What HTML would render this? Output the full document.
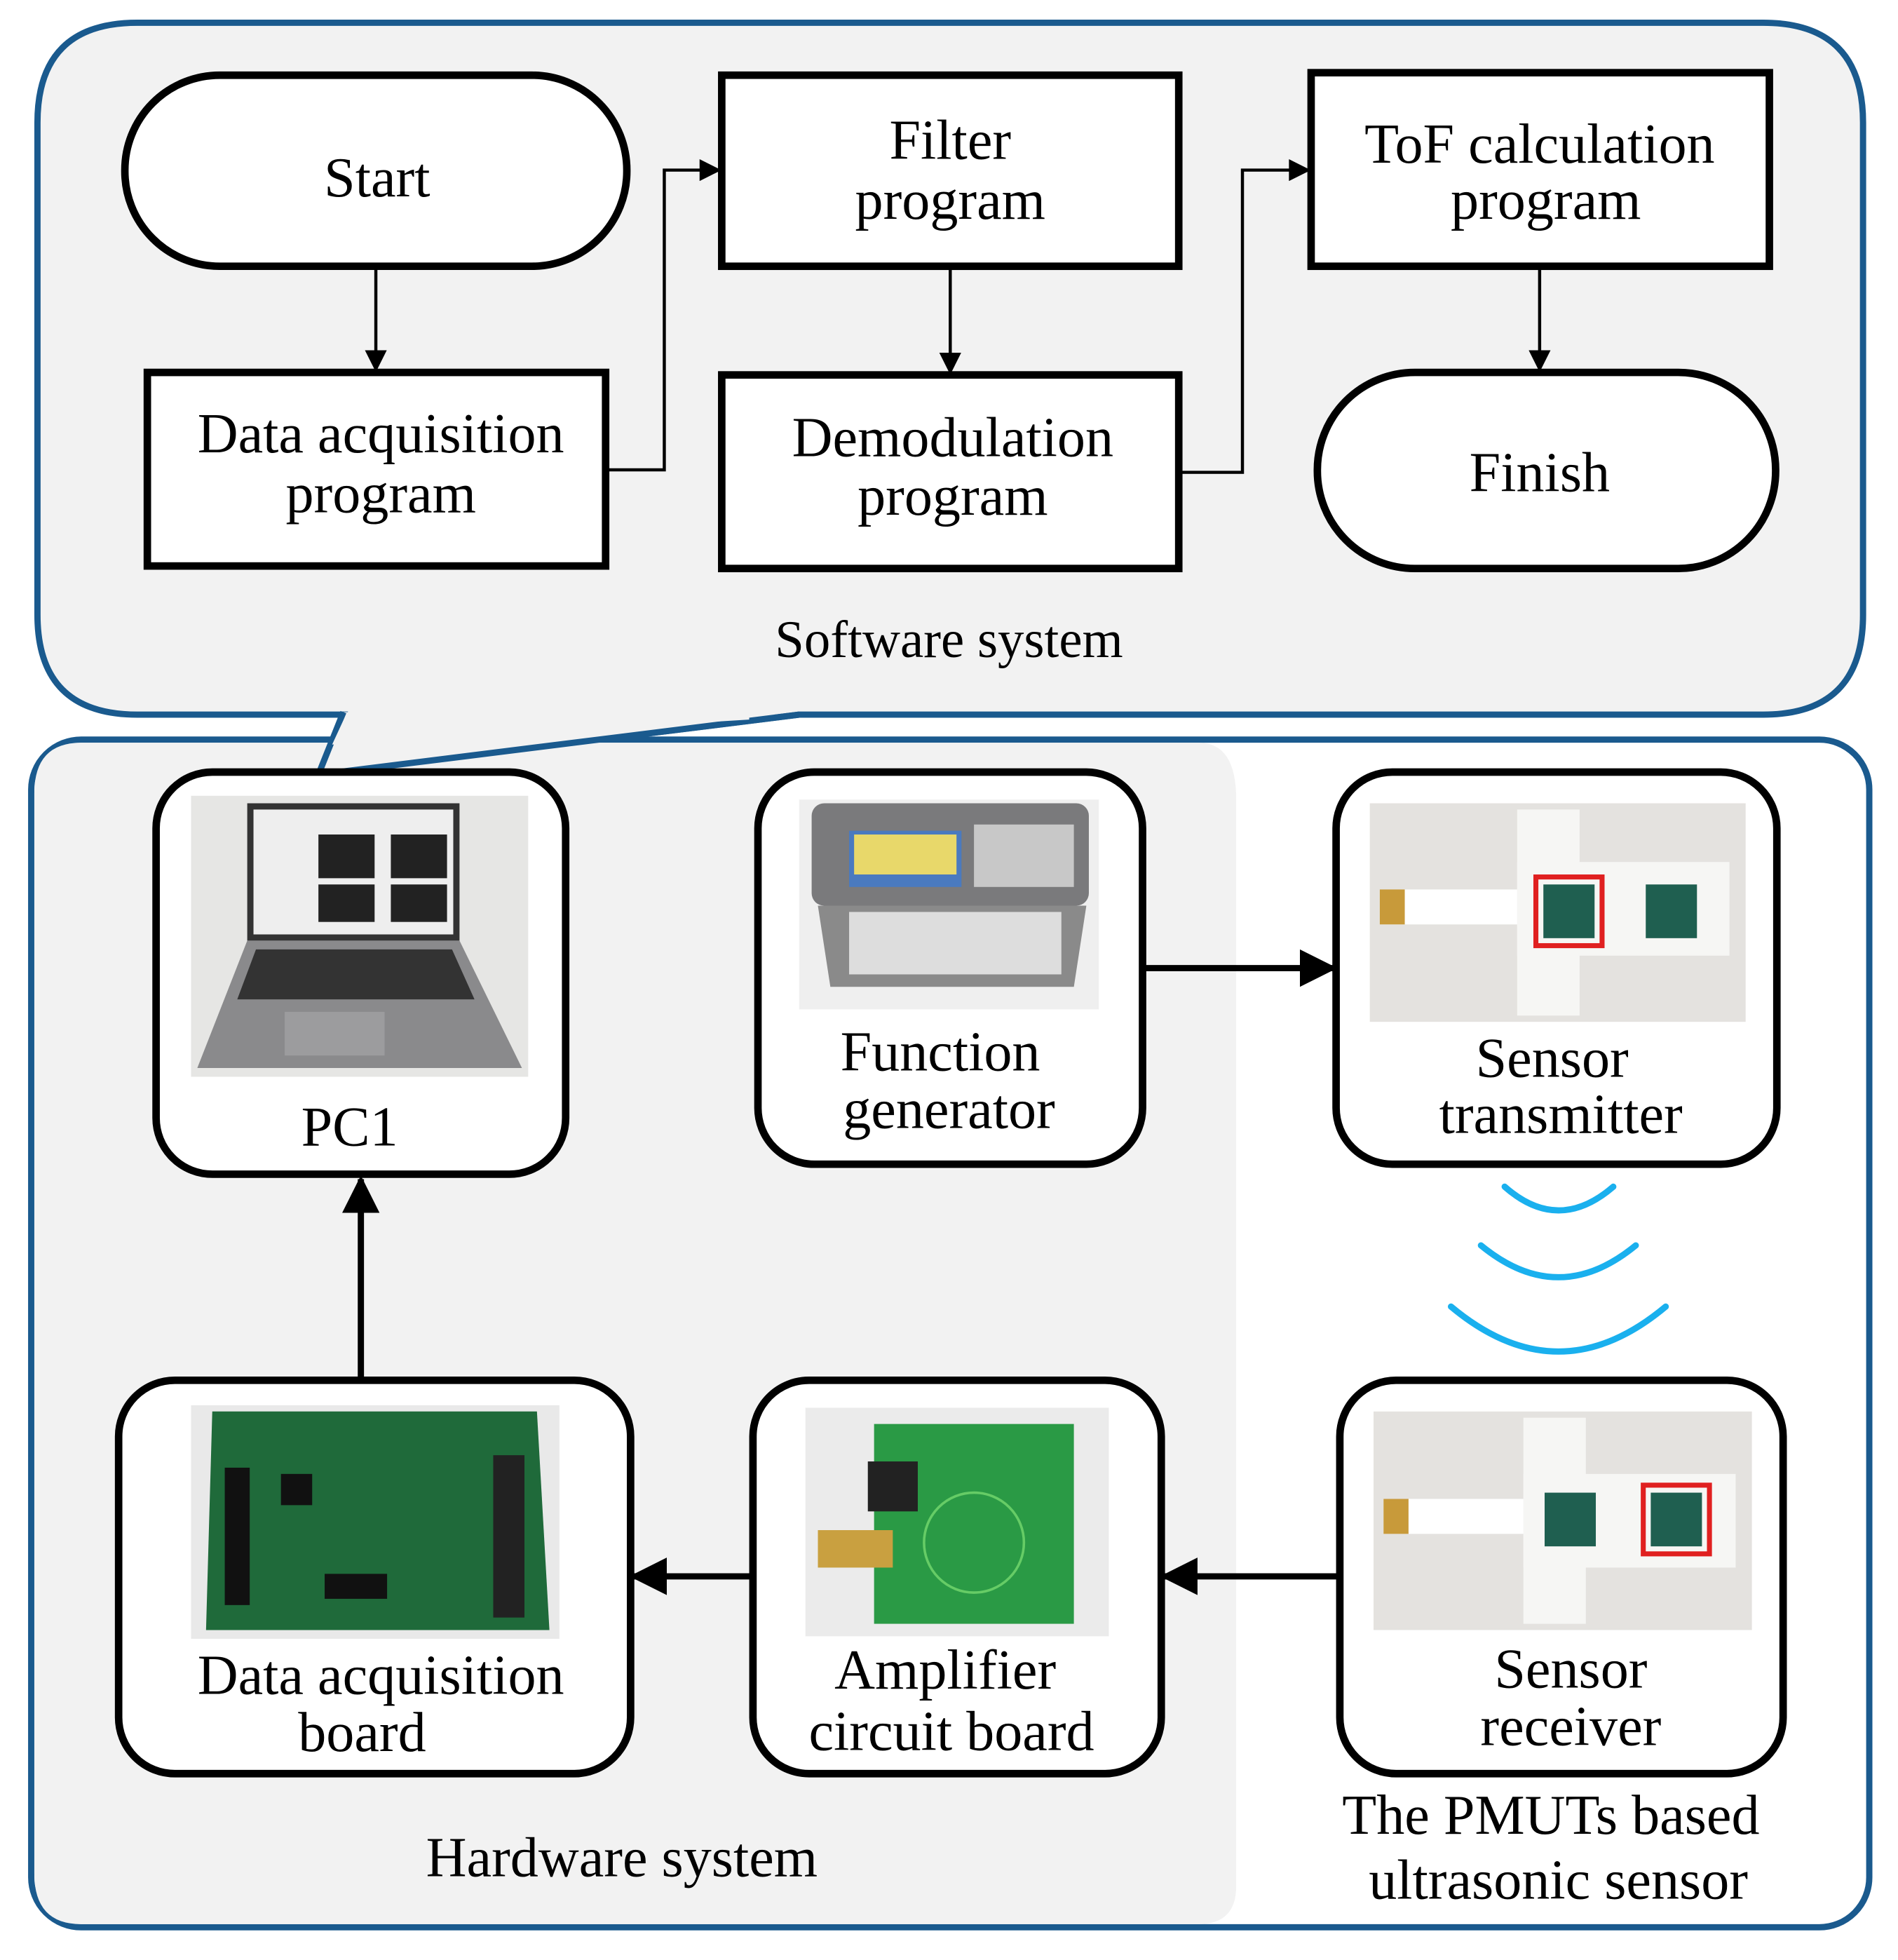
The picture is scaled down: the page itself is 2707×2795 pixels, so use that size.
<!DOCTYPE html>
<html><head><meta charset="utf-8"><style>html,body{margin:0;padding:0;background:#fff}svg{display:block}</style></head>
<body>
<svg xmlns="http://www.w3.org/2000/svg" width="2707" height="2795" viewBox="0 0 1520 1569">
<defs>
<marker id="a" viewBox="0 0 10 10" refX="9" refY="5" markerWidth="8.5" markerHeight="7" orient="auto" markerUnits="strokeWidth"><path d="M0,0L10,5L0,10z" fill="#000"/></marker>
<marker id="b" viewBox="0 0 10 10" refX="9" refY="5" markerWidth="6" markerHeight="6" orient="auto" markerUnits="strokeWidth"><path d="M0,0L10,5L0,10z" fill="#000"/></marker>
</defs>
<g font-family="Liberation Serif, serif" text-anchor="middle" fill="#000">
<path d="M110,18 H1412 Q1492,18 1492,98 V492 Q1492,572 1412,572 H640 L255,620 L275,572 H110 Q30,572 30,492 V98 Q30,18 110,18 Z" fill="#f2f2f2" stroke="#1a5a8e" stroke-width="5"/>
<rect x="25" y="592" width="1472" height="951" rx="40" fill="#fff" stroke="#1a5a8e" stroke-width="5"/>
<path d="M65,594.5 H960 Q990,594.5 990,640 V1510 Q990,1540.5 960,1540.5 H65 Q27.5,1540.5 27.5,1500 V635 Q27.5,594.5 65,594.5Z" fill="#f2f2f2"/>
<path d="M275,570 L255,620 L640,572" fill="#f2f2f2" stroke="#1a5a8e" stroke-width="5" stroke-linejoin="miter"/>
<path d="M266,596 L278,570 L600,570 L600,576 Z" fill="#f2f2f2" stroke="none"/>

<rect x="100" y="60" width="402" height="153" rx="76" fill="#fff" stroke="#000" stroke-width="6"/>
<rect x="578" y="60" width="366" height="153" fill="#fff" stroke="#000" stroke-width="6"/>
<rect x="1050" y="58" width="367" height="155" fill="#fff" stroke="#000" stroke-width="6"/>
<rect x="118" y="298" width="367" height="155" fill="#fff" stroke="#000" stroke-width="6"/>
<rect x="578" y="300" width="366" height="155" fill="#fff" stroke="#000" stroke-width="6"/>
<rect x="1055" y="298" width="367" height="157" rx="78" fill="#fff" stroke="#000" stroke-width="6"/>
<g font-size="45">
<text x="302" y="157">Start</text>
<text x="761" y="127">Filter</text><text x="761" y="175">program</text>
<text x="1233" y="130">ToF calculation</text><text x="1238" y="175">program</text>
<text x="305" y="362">Data acquisition</text><text x="305" y="410">program</text>
<text x="763" y="365">Demodulation</text><text x="763" y="412">program</text>
<text x="1233" y="393">Finish</text>
<text x="760" y="526" font-size="42">Software system</text>
</g>
<g stroke="#000" stroke-width="2.5" fill="none">
<path d="M301,213 V296" marker-end="url(#a)"/>
<path d="M485,376 H532 V136 H576" marker-end="url(#a)"/>
<path d="M761,213 V298" marker-end="url(#a)"/>
<path d="M944,378 H995 V136 H1048" marker-end="url(#a)"/>
<path d="M1233,213 V296" marker-end="url(#a)"/>
</g>

<g fill="#fff" stroke="#000" stroke-width="6">
<rect x="125" y="618" width="328" height="322" rx="45"/>
<rect x="607" y="618" width="308" height="314" rx="45"/>
<rect x="1070" y="618" width="353" height="314" rx="45"/>
<rect x="95" y="1105" width="410" height="315" rx="45"/>
<rect x="603" y="1105" width="327" height="315" rx="45"/>
<rect x="1073" y="1105" width="355" height="315" rx="45"/>
</g>
<rect x="153" y="637" width="270" height="225" fill="#e6e6e4"/>
<rect x="198" y="643" width="170" height="110" fill="#333"/>
<rect x="203" y="648" width="160" height="100" fill="#eee"/>
<rect x="255" y="668" width="45" height="35" fill="#222"/><rect x="313" y="668" width="45" height="35" fill="#222"/>
<rect x="255" y="708" width="45" height="30" fill="#222"/><rect x="313" y="708" width="45" height="30" fill="#222"/>
<path d="M198,753 H368 L418,855 H158 Z" fill="#8a8a8c"/>
<path d="M205,760 H362 L380,800 H190 Z" fill="#333"/>
<rect x="228" y="810" width="80" height="35" fill="#9c9c9e"/>
<rect x="640" y="640" width="240" height="168" fill="#efefef"/>
<rect x="650" y="643" width="222" height="82" rx="10" fill="#7a7a7c"/>
<rect x="680" y="665" width="90" height="45" fill="#4a7abf"/><rect x="684" y="668" width="82" height="32" fill="#e8d86a"/>
<rect x="780" y="660" width="80" height="50" fill="#c8c8c8"/>
<path d="M655,725 H870 L860,790 H665 Z" fill="#8a8a8a"/><rect x="680" y="730" width="170" height="50" fill="#ddd"/>
<rect x="1097" y="643" width="301" height="175" fill="#e4e2df"/>
<rect x="1215" y="648" width="50" height="165" fill="#f6f6f4"/><rect x="1215" y="690" width="170" height="75" fill="#f6f6f4"/>
<rect x="1105" y="712" width="110" height="28" fill="#fff"/><rect x="1105" y="712" width="20" height="28" fill="#c89a3a"/>
<rect x="1230" y="702" width="53" height="55" fill="none" stroke="#e02020" stroke-width="4"/>
<rect x="1236" y="708" width="41" height="43" fill="#1f5f50"/><rect x="1318" y="708" width="41" height="43" fill="#1f5f50"/>
<rect x="153" y="1125" width="295" height="187" fill="#e9e9e9"/>
<path d="M170,1130 H430 L440,1305 H165 Z" fill="#1f6a3a"/>
<rect x="180" y="1175" width="20" height="110" fill="#111"/>
<rect x="395" y="1165" width="25" height="130" fill="#222"/>
<rect x="225" y="1180" width="25" height="25" fill="#111"/><rect x="260" y="1260" width="50" height="20" fill="#111"/>
<rect x="645" y="1127" width="243" height="183" fill="#ebebeb"/>
<rect x="700" y="1140" width="160" height="160" fill="#2a9a45"/>
<rect x="695" y="1170" width="40" height="40" fill="#222"/>
<rect x="655" y="1225" width="60" height="30" fill="#c9a040"/>
<circle cx="780" cy="1235" r="40" fill="none" stroke="#6c6" stroke-width="2"/>
<rect x="1100" y="1130" width="303" height="175" fill="#e4e2df"/>
<rect x="1220" y="1135" width="50" height="165" fill="#f6f6f4"/><rect x="1220" y="1180" width="170" height="75" fill="#f6f6f4"/>
<rect x="1108" y="1200" width="112" height="28" fill="#fff"/><rect x="1108" y="1200" width="20" height="28" fill="#c89a3a"/>
<rect x="1237" y="1195" width="41" height="43" fill="#1f5f50"/>
<rect x="1316" y="1189" width="53" height="55" fill="none" stroke="#e02020" stroke-width="4"/>
<rect x="1322" y="1195" width="41" height="43" fill="#1f5f50"/>

<g font-size="45">
<text x="280" y="917">PC1</text>
<text x="753" y="857">Function</text><text x="760" y="903">generator</text>
<text x="1243" y="862">Sensor</text><text x="1250" y="907">transmitter</text>
<text x="305" y="1356">Data acquisition</text><text x="290" y="1402">board</text>
<text x="757" y="1352">Amplifier</text><text x="762" y="1401">circuit board</text>
<text x="1258" y="1351">Sensor</text><text x="1258" y="1397">receiver</text>
<text x="1242" y="1468">The PMUTs based</text><text x="1248" y="1520">ultrasonic sensor</text>
<text x="498" y="1502">Hardware system</text>
</g>
<g stroke="#000" stroke-width="5" fill="none">
<path d="M289,1105 V944" marker-end="url(#b)"/>
<path d="M915,775 H1068" marker-end="url(#b)"/>
<path d="M1073,1262 H932" marker-end="url(#b)"/>
<path d="M603,1262 H507" marker-end="url(#b)"/>
</g>
<g stroke="#1ab0ee" stroke-width="5" fill="none" stroke-linecap="round">
<path d="M1205,950 Q1248,988 1292,950"/>
<path d="M1186,997 Q1248,1048 1310,997"/>
<path d="M1162,1046 Q1248,1118 1334,1046"/>
</g>
</g>
</svg>
</body></html>
